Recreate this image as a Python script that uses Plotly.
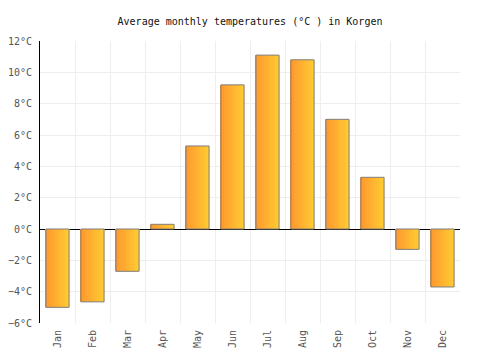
import plotly.graph_objects as go

months = ["Jan", "Feb", "Mar", "Apr", "May", "Jun", "Jul", "Aug", "Sep", "Oct", "Nov", "Dec"]
temps = [-5.0, -4.65, -2.7, 0.3, 5.3, 9.2, 11.1, 10.8, 7.0, 3.3, -1.3, -3.7]
title_text = "Average monthly temperatures (°C ) in Korgen"

FONT = "DejaVu Sans Mono"
xs = list(range(len(months)))
bar_w = 0.66
n_strips = 14
c0 = (255, 152, 46)
c1 = (255, 202, 50)

fig = go.Figure()
for i in range(n_strips):
    t = i / (n_strips - 1)
    col = "rgb(%d,%d,%d)" % tuple(round(a + (b - a) * t) for a, b in zip(c0, c1))
    sw = bar_w / n_strips
    fig.add_trace(go.Bar(
        x=xs, y=temps, width=sw * 1.15, offset=-bar_w / 2 + i * sw,
        marker=dict(color=col, line=dict(width=0)), hoverinfo="skip", showlegend=False,
    ))
fig.add_trace(go.Bar(
    x=xs, y=temps, width=bar_w, offset=-bar_w / 2,
    marker=dict(color="rgba(0,0,0,0)", line=dict(color="#7f7f7f", width=1)),
    showlegend=False,
))

fig.update_layout(
    width=500, height=350, barmode="overlay",
    margin=dict(l=40, r=40, t=41, b=27),
    paper_bgcolor="white", plot_bgcolor="white",
    font=dict(family=FONT, size=10, color="#555"),
    title=dict(text=title_text, x=0.5, xanchor="center", y=0.94, yanchor="middle",
               font=dict(family=FONT, size=10, color="#111")),
    xaxis=dict(
        range=[-0.5, 11.5], tickmode="array", tickvals=xs, ticktext=months,
        tickangle=-90, showgrid=False, zeroline=False, ticks="",
        ticklabelstandoff=4, automargin=False,
        minor=dict(tickmode="linear", tick0=-0.5, dtick=1, showgrid=True,
                   gridcolor="#eeeeee", gridwidth=1, ticks=""),
    ),
    yaxis=dict(
        range=[-6, 12], dtick=2, tick0=0, ticksuffix="°C",
        showgrid=True, gridcolor="#eeeeee", gridwidth=1,
        zeroline=True, zerolinecolor="black", zerolinewidth=1,
        showline=True, linecolor="black", linewidth=1, ticks="",
        ticklabelstandoff=5, automargin=False,
    ),
)

fig.write_html("out.html")
